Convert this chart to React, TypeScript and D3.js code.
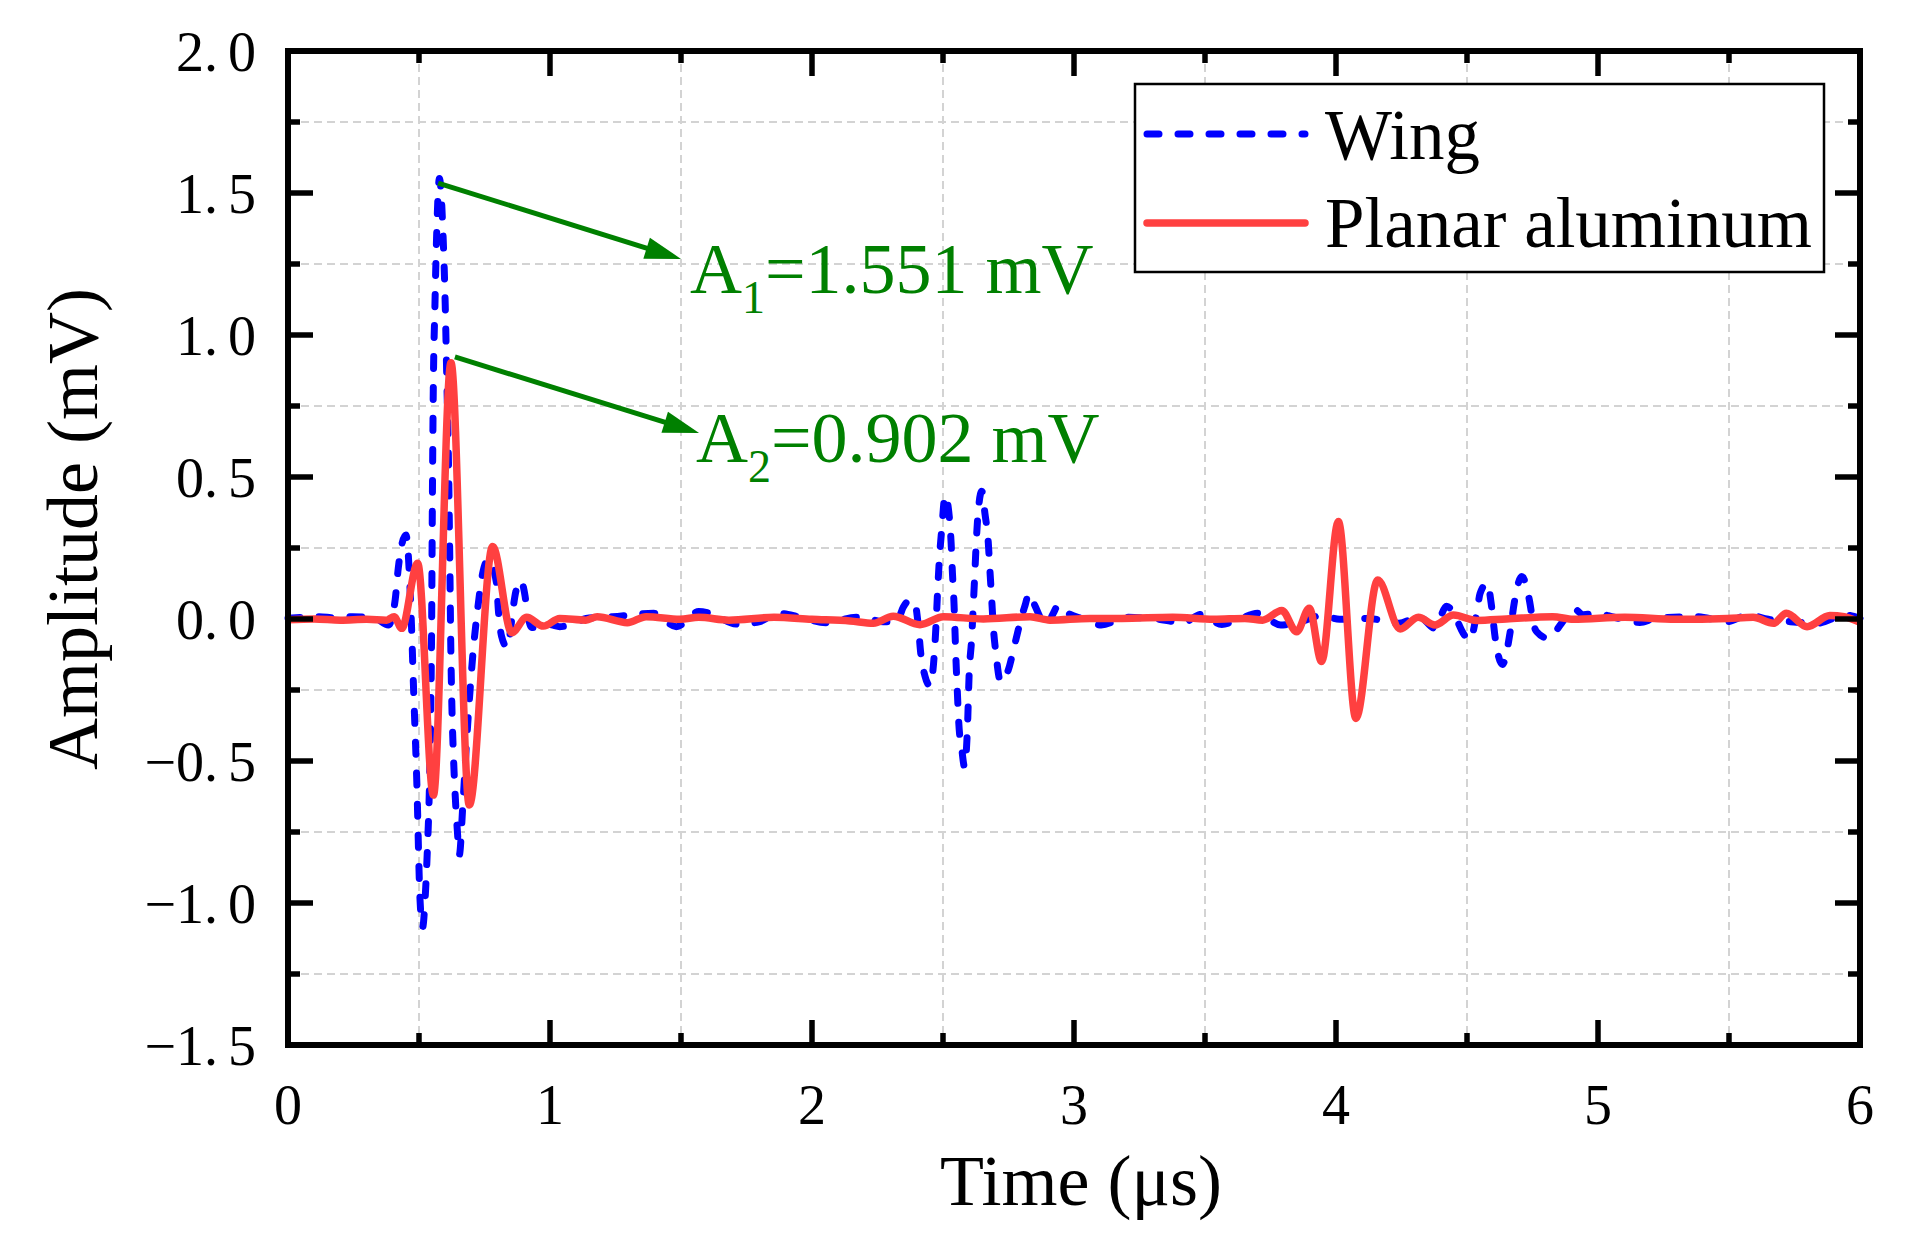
import * as d3 from 'd3';

// Wing echo (blue dashed), [time in µs, amplitude in mV]
const wingData: [number, number][] = [
  [0.0, 0.003], [0.06, 0.006], [0.118, 0.008], [0.18, 0.004], [0.247, 0.008], [0.333, 0.002],
  [0.383, -0.021], [0.409, 0.067], [0.421, 0.18], [0.45, 0.296], [0.472, -0.04], [0.479, -0.238],
  [0.491, -0.555], [0.504, -0.99], [0.514, -1.085], [0.523, -0.99], [0.532, -0.81], [0.54, -0.58],
  [0.545, -0.31], [0.548, -0.05], [0.551, 0.407], [0.554, 0.759], [0.561, 1.112], [0.567, 1.34],
  [0.578, 1.551], [0.592, 1.346], [0.6, 1.11], [0.606, 0.85], [0.613, 0.525], [0.618, 0.172],
  [0.621, -0.074], [0.625, -0.285], [0.631, -0.47], [0.637, -0.6], [0.646, -0.74], [0.654, -0.83],
  [0.667, -0.66], [0.682, -0.426], [0.695, -0.25], [0.707, -0.11], [0.722, 0.02], [0.745, 0.17],
  [0.765, 0.21], [0.796, 0.126], [0.803, 0.03], [0.815, -0.06], [0.837, -0.1], [0.857, 0.02],
  [0.866, 0.08], [0.888, 0.135], [0.905, 0.08], [0.911, 0.04], [0.93, -0.03], [0.962, -0.03],
  [1.0, -0.02], [1.037, -0.027], [1.094, -0.015], [1.137, 0.002], [1.238, 0.008], [1.396, 0.02],
  [1.482, -0.027], [1.568, 0.026], [1.611, 0.02], [1.712, -0.018], [1.798, -0.01], [1.87, 0.02],
  [1.956, 0.006], [2.056, -0.013], [2.171, 0.006], [2.221, 0.0], [2.272, -0.01], [2.323, -0.01],
  [2.349, 0.043], [2.374, 0.067], [2.393, 0.055], [2.406, -0.027], [2.415, -0.12], [2.431, -0.2],
  [2.45, -0.235], [2.466, -0.133], [2.473, -0.027], [2.479, 0.09], [2.486, 0.208], [2.496, 0.325],
  [2.508, 0.435], [2.524, 0.36], [2.531, 0.267], [2.536, 0.162], [2.542, 0.055], [2.546, -0.05],
  [2.55, -0.156], [2.555, -0.262], [2.56, -0.362], [2.572, -0.461], [2.582, -0.52], [2.593, -0.391],
  [2.6, -0.19], [2.609, -0.074], [2.616, 0.055], [2.622, 0.172], [2.628, 0.29], [2.635, 0.384],
  [2.648, 0.45], [2.66, 0.372], [2.673, 0.267], [2.679, 0.172], [2.686, 0.067], [2.692, -0.027],
  [2.702, -0.121], [2.72, -0.221], [2.749, -0.18], [2.775, -0.085], [2.8, 0.008], [2.813, 0.047],
  [2.828, 0.09], [2.851, 0.047], [2.87, 0.008], [2.896, -0.021], [2.921, 0.02], [2.94, 0.049],
  [2.978, 0.02], [3.034, 0.0], [3.104, -0.021], [3.201, 0.006], [3.299, 0.002], [3.417, -0.012],
  [3.486, 0.016], [3.564, -0.019], [3.622, -0.004], [3.701, 0.02], [3.789, -0.021], [3.867, -0.009],
  [3.946, 0.012], [4.014, -0.001], [4.122, 0.002], [4.24, -0.015], [4.318, 0.008], [4.377, -0.033],
  [4.422, 0.045], [4.467, -0.015], [4.479, -0.039], [4.511, -0.074], [4.537, 0.02], [4.55, 0.09],
  [4.577, 0.126], [4.594, 0.043], [4.607, -0.062], [4.635, -0.16], [4.664, -0.05], [4.68, 0.055],
  [4.709, 0.15], [4.738, 0.067], [4.753, -0.015], [4.766, -0.045], [4.81, -0.068], [4.861, -0.015],
  [4.906, 0.038], [4.944, 0.015], [4.994, 0.02], [5.062, 0.006], [5.16, -0.012], [5.219, 0.002],
  [5.375, 0.008], [5.494, -0.009], [5.572, 0.014], [5.65, -0.001], [5.729, -0.009], [5.836, -0.015],
  [5.944, 0.014], [6.0, 0.002],
];

// Planar aluminum echo (red solid), [time in µs, amplitude in mV]
const planarData: [number, number][] = [
  [0.0, -0.003], [0.1, 0.0], [0.2, -0.004], [0.3, -0.001], [0.376, -0.004], [0.405, 0.008],
  [0.434, -0.033], [0.495, 0.196], [0.555, -0.62], [0.622, 0.902], [0.692, -0.655], [0.781, 0.255],
  [0.854, -0.048], [0.911, 0.006], [0.975, -0.025], [1.037, 0.002], [1.137, -0.004], [1.18, 0.008],
  [1.295, -0.013], [1.367, 0.008], [1.496, -0.001], [1.568, 0.006], [1.683, -0.004], [1.855, 0.006],
  [1.999, -0.001], [2.145, -0.007], [2.234, -0.015], [2.31, 0.01], [2.412, -0.02], [2.502, 0.008],
  [2.654, 0.0], [2.832, 0.008], [2.908, -0.004], [3.061, 0.002], [3.182, 0.002], [3.377, 0.006],
  [3.534, -0.001], [3.652, 0.002], [3.72, -0.004], [3.793, 0.03], [3.85, -0.045], [3.898, 0.038],
  [3.945, -0.15], [4.009, 0.343], [4.076, -0.35], [4.159, 0.137], [4.245, -0.035], [4.314, 0.006],
  [4.378, -0.021], [4.448, 0.014], [4.537, -0.005], [4.65, 0.0], [4.827, 0.008], [4.906, -0.001],
  [5.102, 0.006], [5.297, -0.001], [5.494, 0.002], [5.592, 0.006], [5.67, -0.015], [5.719, 0.02],
  [5.798, -0.027], [5.885, 0.012], [5.94, 0.008], [6.0, -0.012],
];

const xMajorTicks = [0, 1, 2, 3, 4, 5, 6];
const xMinorTicks = [0.5, 1.5, 2.5, 3.5, 4.5, 5.5];
const yMajorTicks = [2.0, 1.5, 1.0, 0.5, 0.0, -0.5, -1.0, -1.5];
const yMinorTicks = [1.75, 1.25, 0.75, 0.25, -0.25, -0.75, -1.25];

const seriesNames = ['Wing', 'Planar aluminum'];

// peak annotations: arrow from / to and label anchor, all in data units
const peakSubs = ['1', '2'];
const peakValues = ['1.551', '0.902'];
const arrowFrom: [number, number][] = [[0.573, 1.535], [0.637, 0.923]];
const arrowTo: [number, number][] = [[1.5, 1.268], [1.569, 0.655]];
const labelAt: [number, number][] = [[1.534, 1.148], [1.557, 0.553]];

const W = 1920;
const H = 1255;
const margin = { top: 51, right: 60, bottom: 210, left: 288 };
const FONT = '"Liberation Serif", "Times New Roman", serif';
const BLUE = '#0000ff';
const RED = '#ff4040';
const GREEN = '#008000';

const x = d3.scaleLinear().domain([0, 6]).range([margin.left, W - margin.right]);
const y = d3.scaleLinear().domain([-1.5, 2.0]).range([H - margin.bottom, margin.top]);

const line = d3.line<[number, number]>()
  .x(d => x(d[0]))
  .y(d => y(d[1]))
  .curve(d3.curveMonotoneX);

const fmtY = (v: number) => d3.format('.1f')(v).replace('-', '\u2212');

function Arrow({ from, to }: { from: [number, number]; to: [number, number] }) {
  const x0 = x(from[0]), y0 = y(from[1]);
  const x1 = x(to[0]), y1 = y(to[1]);
  const len = Math.hypot(x1 - x0, y1 - y0);
  const ux = (x1 - x0) / len, uy = (y1 - y0) / len;
  const headLen = 36, headHalf = 11;
  const bx = x1 - ux * headLen, by = y1 - uy * headLen;
  const pts = [
    [x1, y1],
    [bx - uy * headHalf, by + ux * headHalf],
    [bx + uy * headHalf, by - ux * headHalf],
  ].map(p => p.join(',')).join(' ');
  return (
    <g>
      <line x1={x0} y1={y0} x2={bx + ux * 4} y2={by + uy * 4} stroke={GREEN} strokeWidth={5} />
      <polygon points={pts} fill={GREEN} />
    </g>
  );
}

export default function App() {
  const [x0, x1] = x.range();
  const [yb, yt] = y.range();
  const majorLen = 25;
  const minorLen = 12;

  return (
    <svg width={W} height={H} style={{ position: 'absolute', left: 0, top: 0, background: '#fff' }}
      fontFamily={FONT}>
      <rect width={W} height={H} fill="#fff" />

      {/* grid at minor positions */}
      <g stroke="#d3d3d3" strokeWidth={2} strokeDasharray="8 5">
        {xMinorTicks.map(t => <line key={'gx' + t} x1={x(t)} x2={x(t)} y1={yt} y2={yb} />)}
        {yMinorTicks.map(t => <line key={'gy' + t} x1={x0} x2={x1} y1={y(t)} y2={y(t)} />)}
      </g>

      {/* series */}
      <path d={line(wingData) ?? ''} fill="none" stroke={BLUE} strokeWidth={7}
        strokeDasharray="12 19" strokeLinecap="round" strokeLinejoin="round" />
      <path d={line(planarData) ?? ''} fill="none" stroke={RED} strokeWidth={7.5}
        strokeLinejoin="round" />

      {/* ticks, inward on all four sides */}
      <g stroke="#000" strokeWidth={5.5}>
        {xMajorTicks.map(t => (
          <g key={'xt' + t}>
            <line x1={x(t)} x2={x(t)} y1={yb} y2={yb - majorLen} />
            <line x1={x(t)} x2={x(t)} y1={yt} y2={yt + majorLen} />
          </g>
        ))}
        {xMinorTicks.map(t => (
          <g key={'xm' + t}>
            <line x1={x(t)} x2={x(t)} y1={yb} y2={yb - minorLen} />
            <line x1={x(t)} x2={x(t)} y1={yt} y2={yt + minorLen} />
          </g>
        ))}
        {yMajorTicks.map(t => (
          <g key={'yt' + t}>
            <line x1={x0} x2={x0 + majorLen} y1={y(t)} y2={y(t)} />
            <line x1={x1} x2={x1 - majorLen} y1={y(t)} y2={y(t)} />
          </g>
        ))}
        {yMinorTicks.map(t => (
          <g key={'ym' + t}>
            <line x1={x0} x2={x0 + minorLen} y1={y(t)} y2={y(t)} />
            <line x1={x1} x2={x1 - minorLen} y1={y(t)} y2={y(t)} />
          </g>
        ))}
      </g>
      <rect x={x0} y={yt} width={x1 - x0} height={yb - yt} fill="none" stroke="#000" strokeWidth={6} />

      {/* tick labels */}
      <g fontSize={56} fill="#000">
        {xMajorTicks.map(t => (
          <text key={'xl' + t} x={x(t)} y={yb + 79} textAnchor="middle">{t}</text>
        ))}
        {yMajorTicks.map(t => {
          const [head, tail] = fmtY(t).split('.');
          return (
            <text key={'yl' + t} x={x0 - 32} y={y(t) + 20} textAnchor="end">
              {head}.<tspan dx={10}>{tail}</tspan>
            </text>
          );
        })}
      </g>

      {/* axis titles */}
      <text x={(x0 + x1) / 2 + 7} y={1205} textAnchor="middle" fontSize={72}>Time (μs)</text>
      <text transform={`translate(97,${(yt + yb) / 2 - 19}) rotate(-90)`} textAnchor="middle" fontSize={72}>
        Amplitude (mV)
      </text>

      {/* legend */}
      <g>
        <rect x={1135} y={84} width={689} height={188} fill="#fff" stroke="#000" strokeWidth={2.5} />
        <line x1={1147} x2={1305} y1={134} y2={134} stroke={BLUE} strokeWidth={7}
          strokeDasharray="12 19" strokeLinecap="round" />
        <line x1={1147} x2={1305} y1={223} y2={223} stroke={RED} strokeWidth={7.5} strokeLinecap="round" />
        <text x={1325} y={159} fontSize={71}>{seriesNames[0]}</text>
        <text x={1325} y={247} fontSize={71}>{seriesNames[1]}</text>
      </g>

      {/* peak annotations */}
      {peakSubs.map((s, i) => (
        <g key={'pk' + s}>
          <Arrow from={arrowFrom[i]} to={arrowTo[i]} />
          <text x={x(labelAt[i][0])} y={y(labelAt[i][1])} fontSize={72} fill={GREEN}>
            A<tspan fontSize={46} dy={20}>{s}</tspan>
            <tspan dy={-20}>={peakValues[i]} mV</tspan>
          </text>
        </g>
      ))}
    </svg>
  );
}
